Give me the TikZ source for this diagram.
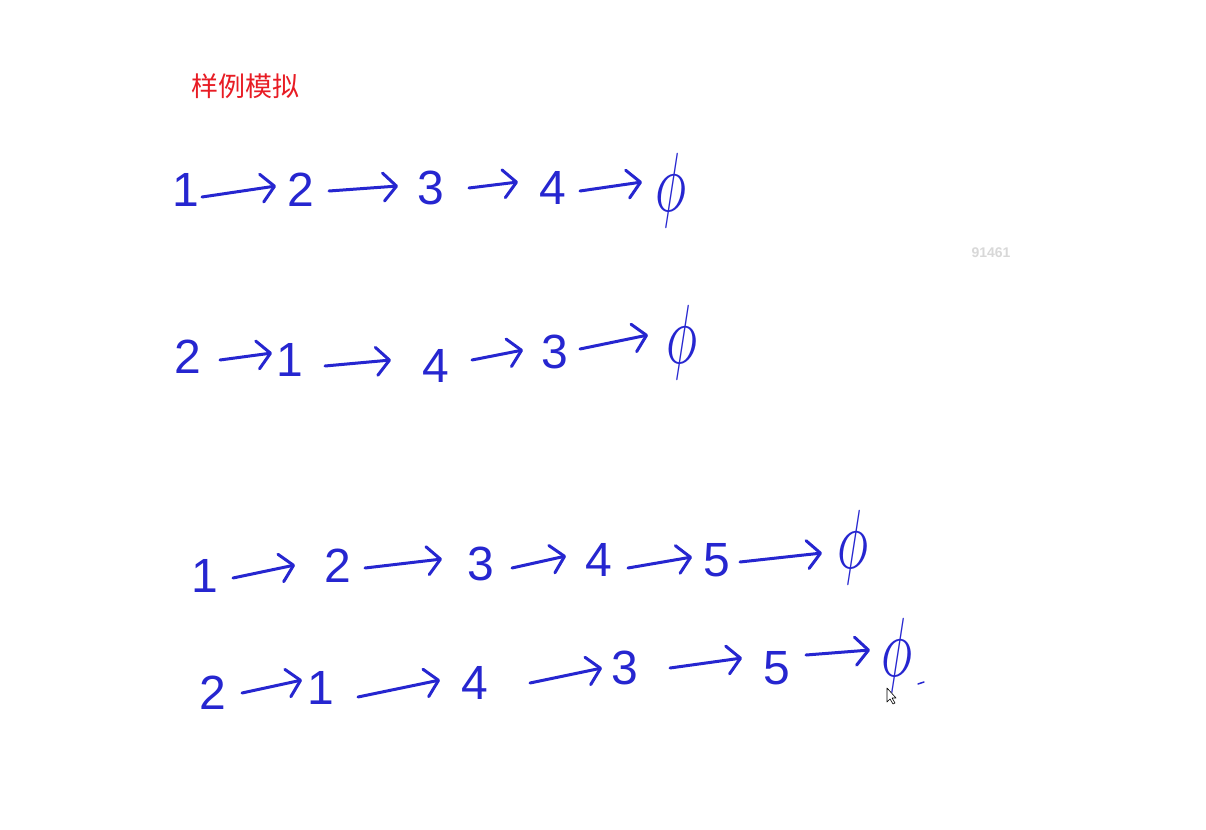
\documentclass[tikz,border=0pt]{standalone}
\usepackage{fontspec}
\usepackage{graphicx}
\setmainfont{Liberation Sans}
\newfontfamily\cjk{Noto Sans CJK SC}
\usetikzlibrary{arrows.meta}
\definecolor{ink}{RGB}{38,38,208}
\definecolor{titlered}{RGB}{232,28,36}
\definecolor{wm}{RGB}{216,216,216}
\tikzset{
 dig/.style={inner sep=0pt, text=ink, font=\fontsize{48}{48}\selectfont},
 nul/.style={inner sep=0pt, text=ink},
 arr/.style={draw=ink, line width=3pt, line cap=round, line join=round,
   -{Straight Barb[length=13pt,width=28pt,line cap=round,line join=round]}},
}
\newcommand\conn[4]{\draw[arr] ([shift={(#2)}]#1.center) -- ([shift={(#4)}]#3.center);}
\newcommand\nullsym{\scalebox{5.2}[8.4]{$\phi$}}
\begin{document}
\begin{tikzpicture}[x=1pt,y=-1pt]
\useasboundingbox[fill=white] (0,0) rectangle (1206,829);

\node[text=titlered, font=\cjk\fontsize{27}{27}\selectfont, inner sep=0pt] (title) at (245,86) {样例模拟};
\node[text=wm, font=\bfseries\fontsize{14}{14}\selectfont, inner sep=0pt] (wmark) at (991,253) {91461};

% row 1
\node[dig] (n11) at (186,190) {1};
\node[dig] (n12) at (301,190) {2};
\node[dig] (n13) at (431,188) {3};
\node[dig] (n14) at (553,188) {4};
\node[nul] (n15) at (671,190) {\nullsym};
\conn{n11}{16,7}{n12}{-25,-4}
\conn{n12}{28,1}{n13}{-33,-2}
\conn{n13}{38,0}{n14}{-35,-6}
\conn{n14}{27,3}{n15}{-29,-8}

% row 2
\node[dig] (n21) at (188,357) {2};
\node[dig] (n22) at (290,360) {1};
\node[dig] (n23) at (436,366) {4};
\node[dig] (n24) at (555,352) {3};
\node[nul] (n25) at (682,342) {\nullsym};
\conn{n21}{32,3}{n22}{-18,-7}
\conn{n22}{35,6}{n23}{-45,-6}
\conn{n23}{36,-6}{n24}{-32,-2}
\conn{n24}{25,-3}{n25}{-34,-7}

% row 3
\node[dig] (n31) at (205,576) {1};
\node[dig] (n32) at (338,566) {2};
\node[dig] (n33) at (481,564) {3};
\node[dig] (n34) at (599,560) {4};
\node[dig] (n35) at (717,560) {5};
\node[nul] (n36) at (853,547) {\nullsym};
\conn{n31}{28,2}{n32}{-43,-1}
\conn{n32}{27,2}{n33}{-39,-5}
\conn{n33}{31,4}{n34}{-33,-4}
\conn{n34}{29,8}{n35}{-25,-3}
\conn{n35}{23,2}{n36}{-31,6}

% row 4
\node[dig] (n41) at (213,693) {2};
\node[dig] (n42) at (321,688) {1};
\node[dig] (n43) at (475,683) {4};
\node[dig] (n44) at (625,668) {3};
\node[dig] (n45) at (777,668) {5};
\node[nul] (n46) at (897,655) {\nullsym};
\conn{n41}{29,0}{n42}{-19,-8}
\conn{n42}{37,9}{n43}{-35,-3}
\conn{n43}{55,0}{n44}{-23,0}
\conn{n44}{45,0}{n45}{-35,-10}
\conn{n45}{29,-13}{n46}{-27,-5}

% small marks
\draw[ink, line width=1.5pt, line cap=round] (918,684) -- (924,682);
\draw[black, fill=white, line width=0.6pt, line join=round]
  (887,688) -- (887,702) -- (890,699) -- (893,704) -- (895,703) -- (892,698) -- (896,698) -- cycle;
\end{tikzpicture}
\end{document}
